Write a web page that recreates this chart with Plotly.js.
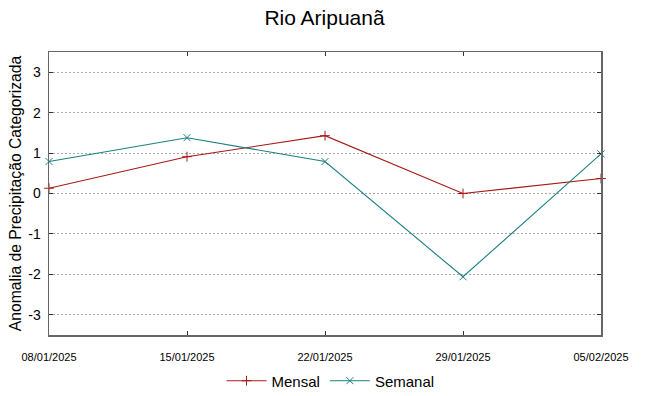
<!DOCTYPE html>
<html>
<head>
<meta charset="utf-8">
<script src="https://cdn.plot.ly/plotly-3.0.1.min.js"></script>
<style>html,body{margin:0;padding:0;background:#fff;}#chart{width:649px;height:396px;}</style>
</head>
<body>
<div id="chart"></div>
<script>
const dates = ["2025-01-08", "2025-01-15", "2025-01-22", "2025-01-29", "2025-02-05"];
const tickLabels = ["08/01/2025", "15/01/2025", "22/01/2025", "29/01/2025", "05/02/2025"];
const mensal = [0.13, 0.91, 1.43, 0.0, 0.37];
const semanal = [0.79, 1.38, 0.79, -2.06, 0.98];
const yTicks = [-3, -2, -1, 0, 1, 2, 3];

const traces = [
  {x: dates, y: mensal, name: "Mensal", type: "scatter", mode: "lines+markers",
   line: {color: "#a81818", width: 1.1}, marker: {symbol: "cross-thin-open", size: 7, line: {color: "#a00000", width: 1}}, cliponaxis: false},
  {x: dates, y: semanal, name: "Semanal", type: "scatter", mode: "lines+markers",
   line: {color: "#1a8080", width: 1.1}, marker: {symbol: "x-thin-open", size: 7, line: {color: "#007878", width: 1}}, cliponaxis: false}
];

const layout = {
  width: 649, height: 396,
  margin: {l: 49, r: 48, t: 52, b: 61},
  paper_bgcolor: "#fff", plot_bgcolor: "#fff",
  font: {family: "Liberation Sans, Arial, sans-serif", color: "#000"},
  title: {text: "Rio Aripuanã", x: 0.5, xanchor: "center", y: 0.955, yanchor: "middle", font: {size: 21, color: "#000"}},
  xaxis: {
    type: "date", range: [dates[0], dates[dates.length - 1]],
    tickvals: dates, ticktext: tickLabels,
    tickfont: {family: "Liberation Sans Narrow, Liberation Sans, Arial", size: 11, stretch: "condensed"},
    ticks: "inside", ticklen: 4, tickcolor: "#333", mirror: "ticks",
    showline: true, linecolor: "#666", linewidth: 1.5,
    showgrid: false, zeroline: false, ticklabelstandoff: 11
  },
  yaxis: {
    range: [-3.5, 3.5], tickvals: yTicks, ticktext: yTicks.map(String),
    tickfont: {size: 14},
    ticks: "inside", ticklen: 4, tickcolor: "#333", mirror: "ticks",
    showline: true, linecolor: "#666", linewidth: 1.5,
    showgrid: true, gridcolor: "#a8a8a8", griddash: "2px,2px", gridwidth: 1,
    zeroline: false, ticklabelstandoff: 4,
    title: {text: "Anomalia de Precipitação Categorizada", font: {size: 15.7}, standoff: 3}
  },
  showlegend: true,
  legend: {orientation: "h", x: 0.51, xanchor: "center", yref: "container", y: 0.038, yanchor: "middle",
    font: {size: 15}, bgcolor: "rgba(0,0,0,0)", itemwidth: 40}
};

Plotly.newPlot("chart", traces, layout, {displayModeBar: false, staticPlot: true});
</script>
</body>
</html>
